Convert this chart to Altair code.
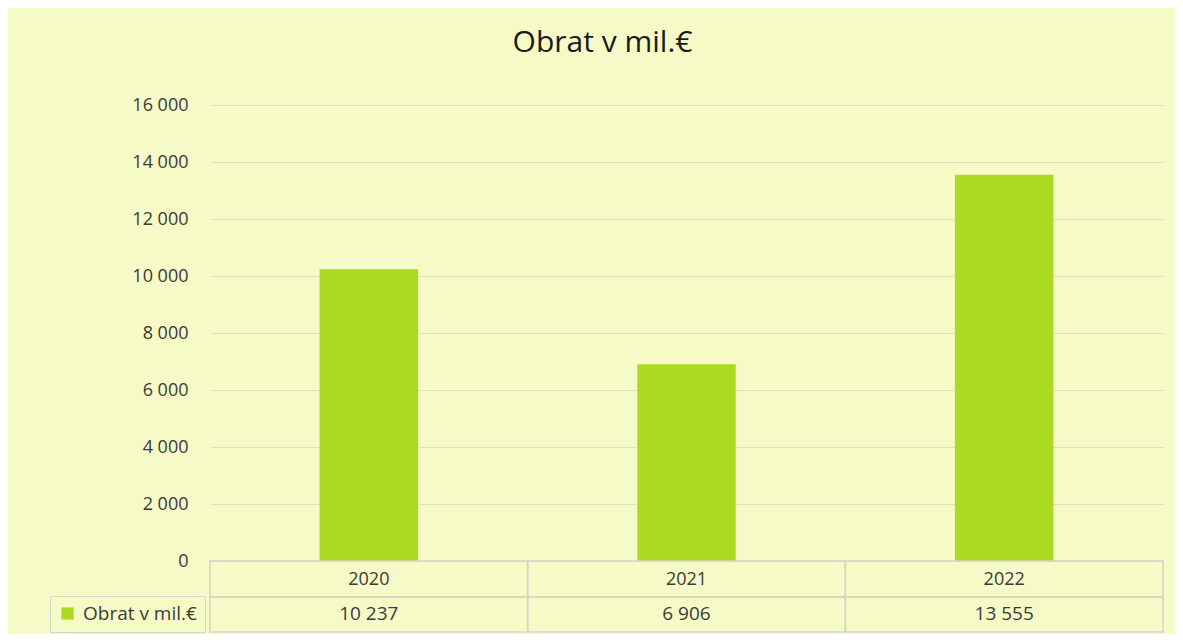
import altair as alt
import pandas as pd

years = ["2020", "2021", "2022"]
values = [10237, 6906, 13555]
series_name = "Obrat v mil.€"
y_ticks = [0, 2000, 4000, 6000, 8000, 10000, 12000, 14000, 16000]

df = pd.DataFrame({"year": years, "value": values, "series": [series_name] * len(years)})

W, H = 953, 456
ROW = 36
FONT = "Open Sans"
BG = "#f5fac6"
GRID = "#dde2bd"
LINE = "#d3d6c2"
TXT = "#3a3a3a"
BAR = "#acd922"

x_enc = alt.X(
    "year:N",
    sort=years,
    title=None,
    scale=alt.Scale(paddingInner=0, paddingOuter=0),
    axis=alt.Axis(domain=False, ticks=False, labelAngle=0, labelPadding=9,
                  labelFontSize=18, labelColor=TXT, labelFont=FONT),
)

base = alt.Chart(df)

bars = base.mark_bar(width={"band": 0.31}).encode(
    x=x_enc,
    y=alt.Y(
        "value:Q",
        title=None,
        scale=alt.Scale(domain=[0, 16000], nice=False),
        axis=alt.Axis(values=y_ticks, domain=False, ticks=False, labelPadding=22,
                      labelFontSize=18, labelColor=TXT, labelFont=FONT,
                      gridColor=GRID, gridWidth=1.2,
                      labelExpr="replace(format(datum.value, ','), ',', ' ')"),
    ),
    color=alt.Color(
        "series:N",
        scale=alt.Scale(range=[BAR]),
        legend=alt.Legend(title=None, orient="none", legendX=-160, legendY=H + ROW - 1,
                          symbolType="square", symbolSize=150, symbolStrokeWidth=0,
                          labelFontSize=19, labelFont=FONT, labelColor=TXT,
                          labelOffset=6, padding=8, strokeColor=LINE, labelLimit=300),
    ),
)

row1 = base.mark_rect(fillOpacity=0, stroke=LINE, strokeWidth=1.5).encode(
    x=x_enc, y=alt.value(H), y2=alt.value(H + ROW)
)
row2 = base.mark_rect(fillOpacity=0, stroke=LINE, strokeWidth=1.5).encode(
    x=x_enc, y=alt.value(H + ROW), y2=alt.value(H + 2 * ROW - 1)
)

vals = base.transform_calculate(
    label="replace(format(datum.value, ','), ',', ' ')"
).mark_text(fontSize=19, font=FONT, color=TXT, baseline="middle").encode(
    x=x_enc, y=alt.value(H + 53), text="label:N"
)

chart = alt.layer(bars, row1, row2, vals).properties(
    width=W,
    height=H,
    title=alt.TitleParams(series_name, fontSize=30, font=FONT, fontWeight="normal",
                          color="#1a1a1a", anchor="middle", dx=-84, offset=38),
    autosize=alt.AutoSizeParams(type="none"),
    padding={"left": 202, "top": 97, "right": 12, "bottom": 73},
    background=BG,
).configure_view(stroke=None)

chart.save("out.html", embed_options={"renderer": "svg", "actions": False})
